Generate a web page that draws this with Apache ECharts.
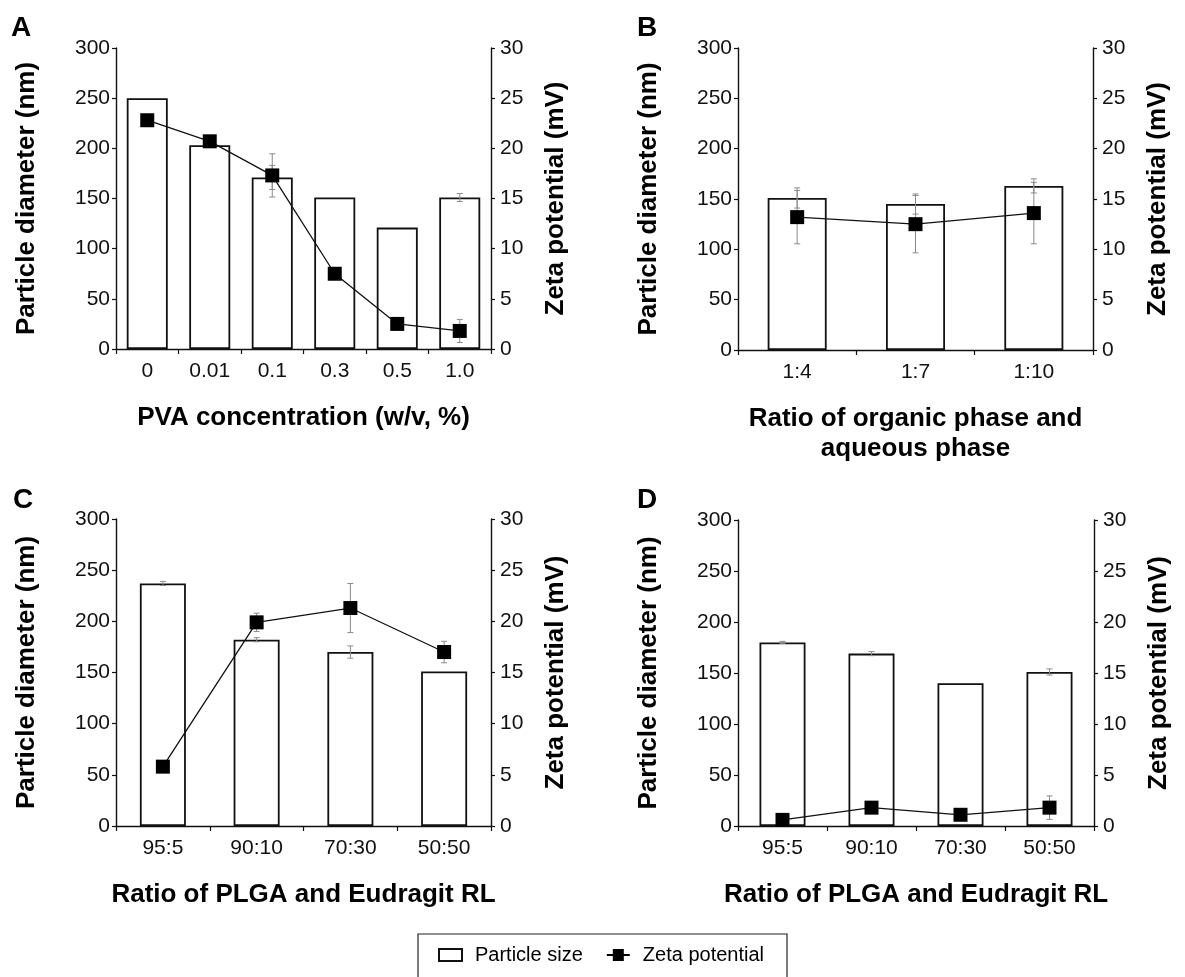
<!DOCTYPE html>
<html>
<head>
<meta charset="utf-8">
<script src="https://cdn.jsdelivr.net/npm/echarts@6/dist/echarts.min.js"></script>
<style>
html, body { margin: 0; padding: 0; background: #fff; }
#chart { width: 1185px; height: 977px; }
</style>
</head>
<body>
<div id="chart"></div>
<script>
// A: PVA concentration
var catA = ['0', '0.01', '0.1', '0.3', '0.5', '1.0'];
var sizeA = [250, 203, 171, 151, 121, 151];
var sizeErrA = [0, 0, 12, 0, 0, 4];
var zetaA = [22.8, 20.7, 17.3, 7.5, 2.5, 1.8];
var zetaErrA = [0, 0, 2.15, 0, 0, 1.15];

// B: organic / aqueous phase ratio
var catB = ['1:4', '1:7', '1:10'];
var sizeB = [151, 145, 163];
var sizeErrB = [10, 10, 7];
var zetaB = [13.2, 12.5, 13.6];
var zetaErrB = [2.65, 2.85, 3.05];

// C: PLGA / Eudragit RL
var catC = ['95:5', '90:10', '70:30', '50:50'];
var sizeC = [237, 182, 170, 151];
var sizeErrC = [2, 2, 6, 0];
var zetaC = [5.8, 19.9, 21.3, 17.0];
var zetaErrC = [0, 0.9, 2.4, 1.05];

// D: PLGA / Eudragit RL
var catD = ['95:5', '90:10', '70:30', '50:50'];
var sizeD = [180, 169, 140, 151];
var sizeErrD = [1, 2, 0, 3];
var zetaD = [0.6, 1.8, 1.1, 1.8];
var zetaErrD = [0, 0, 0, 1.15];

var sizeTicks = [0, 300, 50];
var zetaTicks = [0, 30, 5];

var FONT = '"Liberation Sans", Arial, sans-serif';

var panels = [
    {letter: 'A', cats: catA, size: sizeA, sizeErr: sizeErrA, zeta: zetaA, zetaErr: zetaErrA,
     grid: {left: 116, top: 48, width: 375, height: 301}, barWidth: 41,
     xName: 'PVA concentration (w/v, %)', title: {left: 11, top: 14}},
    {letter: 'B', cats: catB, size: sizeB, sizeErr: sizeErrB, zeta: zetaB, zetaErr: zetaErrB,
     grid: {left: 738, top: 48, width: 355, height: 302}, barWidth: 59,
     xName: 'Ratio of organic phase and\naqueous phase', title: {left: 637, top: 14}},
    {letter: 'C', cats: catC, size: sizeC, sizeErr: sizeErrC, zeta: zetaC, zetaErr: zetaErrC,
     grid: {left: 116, top: 519, width: 375, height: 307}, barWidth: 46,
     xName: 'Ratio of PLGA and Eudragit RL', title: {left: 13, top: 486}},
    {letter: 'D', cats: catD, size: sizeD, sizeErr: sizeErrD, zeta: zetaD, zetaErr: zetaErrD,
     grid: {left: 738, top: 520, width: 356, height: 306}, barWidth: 46,
     xName: 'Ratio of PLGA and Eudragit RL', title: {left: 637, top: 486}}
];

// error bars drawn as a vertical line with two caps
function errorBars(vals, errs, xi, yi) {
    var data = [];
    vals.forEach(function (v, i) {
        if (errs[i] > 0) data.push([i, v - errs[i], v + errs[i]]);
    });
    return {
        type: 'custom',
        name: 'err',
        xAxisIndex: xi,
        yAxisIndex: yi,
        z: 3,
        silent: true,
        encode: {x: 0, y: [1, 2]},
        data: data,
        renderItem: function (params, api) {
            var lo = api.coord([api.value(0), api.value(1)]);
            var hi = api.coord([api.value(0), api.value(2)]);
            var hw = 3;
            var st = {stroke: '#8a8a8a', lineWidth: 1};
            return {
                type: 'group',
                children: [
                    {type: 'line', shape: {x1: hi[0], y1: hi[1], x2: lo[0], y2: lo[1]}, style: st},
                    {type: 'line', shape: {x1: hi[0] - hw, y1: hi[1], x2: hi[0] + hw, y2: hi[1]}, style: st},
                    {type: 'line', shape: {x1: lo[0] - hw, y1: lo[1], x2: lo[0] + hw, y2: lo[1]}, style: st}
                ]
            };
        }
    };
}

var axisLine = {show: true, lineStyle: {color: '#111', width: 1.4}};
var grids = [], xAxes = [], yAxes = [], series = [], titles = [];

panels.forEach(function (p, i) {
    grids.push(p.grid);
    titles.push({
        text: p.letter, left: p.title.left, top: p.title.top, padding: 0,
        textStyle: {fontSize: 28, fontWeight: 'bold', color: '#000', fontFamily: FONT}
    });
    xAxes.push({
        type: 'category', gridIndex: i, data: p.cats,
        axisLine: axisLine,
        axisTick: {show: true, length: 5, lineStyle: {color: '#111', width: 1.2}},
        axisLabel: {fontSize: 21, color: '#111', margin: 12, fontFamily: FONT},
        name: p.xName, nameLocation: 'middle', nameGap: 54,
        nameTextStyle: {fontSize: 26, fontWeight: 'bold', color: '#000', lineHeight: 30, fontFamily: FONT, verticalAlign: 'top'}
    });
    yAxes.push({
        type: 'value', gridIndex: i, position: 'left',
        min: sizeTicks[0], max: sizeTicks[1], interval: sizeTicks[2],
        axisLine: axisLine,
        axisTick: {show: true, length: 4, lineStyle: {color: '#111', width: 1.2}},
        splitLine: {show: false},
        axisLabel: {fontSize: 21, color: '#111', margin: 6, fontFamily: FONT},
        name: 'Particle diameter (nm)', nameLocation: 'middle', nameGap: 76,
        nameTextStyle: {fontSize: 26, fontWeight: 'bold', color: '#000', fontFamily: FONT}
    });
    yAxes.push({
        type: 'value', gridIndex: i, position: 'right',
        min: zetaTicks[0], max: zetaTicks[1], interval: zetaTicks[2],
        axisLine: axisLine,
        axisTick: {show: true, length: 4, lineStyle: {color: '#111', width: 1.2}},
        splitLine: {show: false},
        axisLabel: {fontSize: 21, color: '#111', margin: 9, fontFamily: FONT},
        name: 'Zeta potential (mV)', nameLocation: 'middle', nameGap: 52,
        nameTextStyle: {fontSize: 26, fontWeight: 'bold', color: '#000', fontFamily: FONT}
    });
    series.push({
        type: 'bar', name: 'Particle size', xAxisIndex: i, yAxisIndex: 2 * i,
        data: p.size, barWidth: p.barWidth, z: 2,
        itemStyle: {color: '#fff', borderColor: '#111', borderWidth: 1.8}
    });
    series.push(errorBars(p.size, p.sizeErr, i, 2 * i));
    series.push(errorBars(p.zeta, p.zetaErr, i, 2 * i + 1));
    series.push({
        type: 'line', name: 'Zeta potential', xAxisIndex: i, yAxisIndex: 2 * i + 1,
        data: p.zeta, z: 4, symbol: 'rect', symbolSize: 14,
        lineStyle: {color: '#111', width: 1.3},
        itemStyle: {color: '#000'}
    });
});

// legend glyph: short line through a filled square
var zetaIcon = 'path://M0,5 L6,5 L6,0 L17,0 L17,5 L23,5 L23,7 L17,7 L17,12 L6,12 L6,7 L0,7 Z';

var chart = echarts.init(document.getElementById('chart'));
chart.setOption({
    animation: false,
    backgroundColor: '#fff',
    textStyle: {fontFamily: FONT},
    title: titles,
    grid: grids,
    xAxis: xAxes,
    yAxis: yAxes,
    legend: {
        left: 418, top: 934,
        padding: [11, 23, 16, 20],
        borderColor: '#222', borderWidth: 1.2,
        itemGap: 24, itemWidth: 23, itemHeight: 12,
        textStyle: {fontSize: 20, color: '#000', fontFamily: FONT, padding: [0, 0, 0, 8]},
        data: [
            {name: 'Particle size', icon: 'rect'},
            {name: 'Zeta potential', icon: zetaIcon, itemStyle: {color: '#000', borderWidth: 0}}
        ]
    },
    series: series
});
</script>
</body>
</html>
